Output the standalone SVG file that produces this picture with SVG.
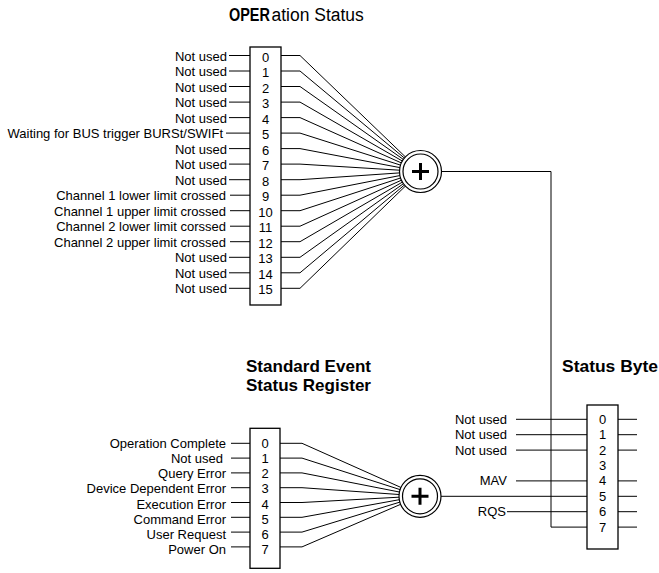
<svg xmlns="http://www.w3.org/2000/svg" width="659" height="573" viewBox="0 0 659 573">
<style>
.lbl{font-family:"Liberation Sans",Arial,sans-serif;font-size:13px;fill:#000;text-anchor:end}
.dig{font-family:"Liberation Sans",Arial,sans-serif;font-size:13px;fill:#000;text-anchor:middle}
.ttl{font-family:"Liberation Sans",Arial,sans-serif;font-weight:bold;fill:#000}
.box{fill:#fff;stroke:#000;stroke-width:1.3}
.ln{stroke:#000;stroke-width:1;fill:none}
.circ{fill:#fff;stroke:#000;stroke-width:1.2}
.plus{stroke:#000;stroke-width:3;fill:none}
</style>
<rect width="659" height="573" fill="#fff"/>

<g id="title-operation">
<text class="ttl" transform="translate(229 21) scale(0.76 1)" font-size="19">OPER</text>
<text class="ttl" transform="translate(271.5 21) scale(0.92 1)" font-size="19" style="font-weight:normal">ation Status</text>
</g>
<g id="title-ses">
<text class="ttl" x="246" y="372" font-size="17" textLength="125" lengthAdjust="spacingAndGlyphs">Standard Event</text>
<text class="ttl" x="246" y="391" font-size="17" textLength="125" lengthAdjust="spacingAndGlyphs">Status Register</text>
</g>
<g id="title-statusbyte">
<text class="ttl" x="562" y="372" font-size="17" textLength="96" lengthAdjust="spacingAndGlyphs">Status Byte</text>
</g>

<g id="connectors">
<path class="ln" d="M229 55.5H250M229 71H250M229 86.5H250M229 102.1H250M229 117.6H250M226 133.1H250M229 148.6H250M229 164.1H250M229 179.7H250M230 195.2H250M230 210.7H250M230 226.2H250M230 241.7H250M229 257.3H250M229 272.8H250M229 288.3H250"/>
<path class="ln" d="M281 55.5H300L405.4 156.9M281 71H300L404.4 158.05M281 86.5H300L403.3 159.4M281 102.1H300L402.3 161M281 117.6H300L401.3 162.9M281 133.1H300L400.5 165.1M281 148.6H300L399.9 167.6M281 164.1H300L399.5 170.2M281 179.7H300L399.55 172.9M281 195.2H300L399.9 175.55M281 210.7H300L400.5 178M281 226.2H300L401.4 180.2M281 241.7H300L402.4 182.1M281 257.3H300L403.4 183.7M281 272.8H300L404.4 185M281 288.3H300L405.4 186.1"/>
<path class="ln" d="M441.5 171.5H551V527.1H587"/>
<path class="ln" d="M231 443.3H250M231 458.1H250M231 472.9H250M231 487.7H250M231 502.5H250M231 517.3H250M231 532.1H250M231 546.9H250"/>
<path class="ln" d="M280 443.3H302L400.8 487.4M280 458.1H302L400 489.6M280 472.9H302L399.4 492M280 487.7H302L399.05 494.5M280 502.5H302L399 497.2M280 517.3H302L399.3 499.7M280 532.1H302L399.9 502.1M280 546.9H302L400.7 504.3"/>
<path class="ln" d="M441 496.3H587"/>
<path class="ln" d="M516 419.3H587M516 434.7H587M516 450.1H587M516 480.9H587M507 511.7H587"/>
<path class="ln" d="M618 419.3H637M618 434.7H637M618 450.1H637M618 480.9H637M618 496.3H637M618 511.7H637M618 527.1H637"/>
</g>

<g id="operation-register">
<rect class="box" x="250" y="47" width="31" height="258"/>
<text class="dig" x="265.5" y="61.5">0</text>
<text class="dig" x="265.5" y="77">1</text>
<text class="dig" x="265.5" y="92.5">2</text>
<text class="dig" x="265.5" y="108.1">3</text>
<text class="dig" x="265.5" y="123.6">4</text>
<text class="dig" x="265.5" y="139.1">5</text>
<text class="dig" x="265.5" y="154.6">6</text>
<text class="dig" x="265.5" y="170.1">7</text>
<text class="dig" x="265.5" y="185.7">8</text>
<text class="dig" x="265.5" y="201.2">9</text>
<text class="dig" x="265.5" y="216.7">10</text>
<text class="dig" x="265.5" y="232.2">11</text>
<text class="dig" x="265.5" y="247.7">12</text>
<text class="dig" x="265.5" y="263.3">13</text>
<text class="dig" x="265.5" y="278.8">14</text>
<text class="dig" x="265.5" y="294.3">15</text>
</g>
<g id="operation-labels">
<text class="lbl" x="227" y="60.5">Not used</text>
<text class="lbl" x="227" y="76">Not used</text>
<text class="lbl" x="227" y="91.5">Not used</text>
<text class="lbl" x="227" y="107.1">Not used</text>
<text class="lbl" x="227" y="122.6">Not used</text>
<text class="lbl" x="223" y="138.1">Waiting for BUS trigger BURSt/SWIFt</text>
<text class="lbl" x="227" y="153.6">Not used</text>
<text class="lbl" x="227" y="169.1">Not used</text>
<text class="lbl" x="227" y="184.7">Not used</text>
<text class="lbl" x="226" y="200.2">Channel 1 lower limit crossed</text>
<text class="lbl" x="226" y="215.7">Channel 1 upper limit crossed</text>
<text class="lbl" x="226" y="231.2">Channel 2 lower limit corssed</text>
<text class="lbl" x="226" y="246.7">Channel 2 upper limit crossed</text>
<text class="lbl" x="227" y="262.3">Not used</text>
<text class="lbl" x="227" y="277.8">Not used</text>
<text class="lbl" x="227" y="293.3">Not used</text>
</g>
<g id="operation-sum">
<circle class="circ" cx="420.5" cy="171.5" r="21"/>
<circle class="circ" cx="420.5" cy="171.5" r="17.5"/>
<path class="plus" d="M412 171.5H429M420.5 163V180"/>
</g>

<g id="ses-register">
<rect class="box" x="250" y="428.3" width="30" height="140"/>
<text class="dig" x="265" y="447.6">0</text>
<text class="dig" x="265" y="462.8">1</text>
<text class="dig" x="265" y="478.1">2</text>
<text class="dig" x="265" y="493.3">3</text>
<text class="dig" x="265" y="508.6">4</text>
<text class="dig" x="265" y="523.8">5</text>
<text class="dig" x="265" y="539">6</text>
<text class="dig" x="265" y="554.3">7</text>
</g>
<g id="ses-labels">
<text class="lbl" x="226" y="447.6">Operation Complete</text>
<text class="lbl" x="223" y="462.8">Not used</text>
<text class="lbl" x="226" y="478.1">Query Error</text>
<text class="lbl" x="226" y="493.3">Device Dependent Error</text>
<text class="lbl" x="226" y="508.6">Execution Error</text>
<text class="lbl" x="226" y="523.8">Command Error</text>
<text class="lbl" x="226" y="539">User Request</text>
<text class="lbl" x="226" y="554.3">Power On</text>
</g>
<g id="ses-sum">
<circle class="circ" cx="420" cy="496.3" r="21"/>
<circle class="circ" cx="420" cy="496.3" r="17.5"/>
<path class="plus" d="M411.5 496.3H428.5M420 487.8V504.8"/>
</g>

<g id="status-byte">
<rect class="box" x="587" y="405" width="31" height="144"/>
<text class="dig" x="602.5" y="423.8">0</text>
<text class="dig" x="602.5" y="439.2">1</text>
<text class="dig" x="602.5" y="454.6">2</text>
<text class="dig" x="602.5" y="470">3</text>
<text class="dig" x="602.5" y="485.4">4</text>
<text class="dig" x="602.5" y="500.8">5</text>
<text class="dig" x="602.5" y="516.2">6</text>
<text class="dig" x="602.5" y="531.6">7</text>
</g>
<g id="status-byte-labels">
<text class="lbl" x="507" y="423.8">Not used</text>
<text class="lbl" x="507" y="439.2">Not used</text>
<text class="lbl" x="507" y="454.6">Not used</text>
<text class="lbl" x="507" y="485.4">MAV</text>
<text class="lbl" x="506" y="516.2">RQS</text>
</g>
</svg>
